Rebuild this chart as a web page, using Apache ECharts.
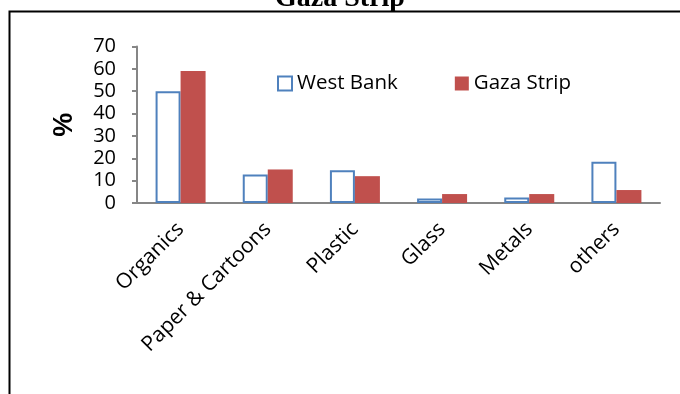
<!DOCTYPE html>
<html>
<head>
<meta charset="utf-8">
<script src="https://cdn.jsdelivr.net/npm/echarts@6/dist/echarts.min.js"></script>
<style>
  html, body { margin: 0; padding: 0; background: #fff; }
  #chart { width: 680px; height: 394px; }
</style>
</head>
<body>
<div id="chart"></div>
<script>
// Solid waste composition (%) by category
const categories = ['Organics', 'Paper & Cartoons', 'Plastic', 'Glass', 'Metals', 'others'];
const westBank = [50, 12.7, 14.7, 2, 2.5, 18.5];
const gazaStrip = [59, 15, 12, 4, 4, 5.8];
const yTicks = { min: 0, max: 70, interval: 10 };

const FONT = '"Open Sans", "Liberation Sans", sans-serif';
const AXIS_GREY = '#868686';

const chart = echarts.init(document.getElementById('chart'), null, { renderer: 'canvas' });

chart.setOption({
  animation: false,
  backgroundColor: '#fff',
  graphic: [
    {
      type: 'text',
      left: 'center',
      top: -15,
      style: {
        text: 'Gaza Strip',
        font: 'bold 28px "Liberation Serif", "Times New Roman", serif',
        fill: '#000'
      }
    },
    {
      type: 'polyline',
      shape: { points: [[9.5, 400], [9.5, 11.5], [690, 11.5]] },
      style: { stroke: '#000', lineWidth: 2, fill: null }
    }
  ],
  legend: {
    left: 277,
    top: 73,
    padding: 0,
    itemWidth: 14,
    itemHeight: 14,
    itemGap: 57,
    itemTextGap: 6,
    icon: 'rect',
    textStyle: { fontFamily: FONT, fontSize: 20.5, color: '#000' },
    data: ['West Bank', 'Gaza Strip']
  },
  grid: { left: 137, right: 20, top: 46.5, bottom: 191, containLabel: false },
  xAxis: {
    type: 'category',
    data: categories,
    axisLine: { lineStyle: { color: AXIS_GREY, width: 2 } },
    axisTick: { length: 5, lineStyle: { color: AXIS_GREY, width: 2 } },
    axisLabel: {
      rotate: 45,
      margin: 23,
      interval: 0,
      fontFamily: FONT,
      fontSize: 21,
      color: '#000'
    }
  },
  yAxis: {
    type: 'value',
    min: yTicks.min,
    max: yTicks.max,
    interval: yTicks.interval,
    name: '%',
    nameLocation: 'middle',
    nameGap: 59,
    nameRotate: 90,
    nameTextStyle: { fontFamily: '"Liberation Sans", Arial, sans-serif', fontWeight: 'bold', fontSize: 27, color: '#000' },
    axisLine: { show: true, lineStyle: { color: AXIS_GREY, width: 2 } },
    axisTick: { show: true, length: 5, lineStyle: { color: AXIS_GREY, width: 2 } },
    splitLine: { show: false },
    axisLabel: { margin: 21, fontFamily: FONT, fontSize: 20, color: '#000' }
  },
  series: [
    {
      name: 'West Bank',
      type: 'bar',
      data: westBank,
      barWidth: 25,
      barGap: '0%',
      itemStyle: { color: '#fff', borderColor: '#4F81BD', borderWidth: 2 }
    },
    {
      name: 'Gaza Strip',
      type: 'bar',
      data: gazaStrip,
      barWidth: 25,
      barGap: '0%',
      itemStyle: { color: '#C0504D' }
    }
  ]
});
</script>
</body>
</html>
